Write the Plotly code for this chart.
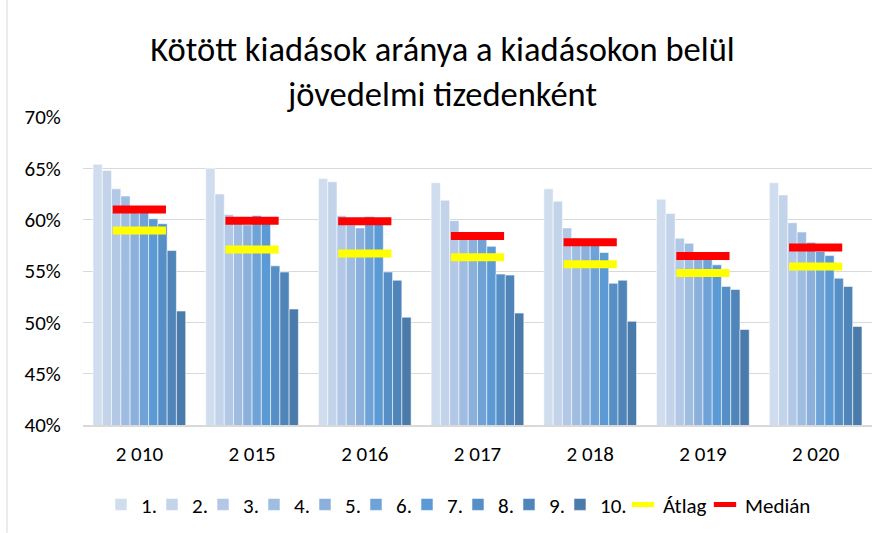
import plotly.graph_objects as go

years = ["2 010", "2 015", "2 016", "2 017", "2 018", "2 019", "2 020"]
decile_names = ["1.", "2.", "3.", "4.", "5.", "6.", "7.", "8.", "9.", "10."]

# share of fixed expenses (%) per income decile, one list per decile across years
d1 = [65.4, 65.0, 64.0, 63.6, 63.0, 62.0, 63.6]
d2 = [64.8, 62.5, 63.7, 61.9, 61.8, 60.6, 62.4]
d3 = [63.0, 60.5, 60.4, 59.9, 59.2, 58.2, 59.7]
d4 = [62.3, 59.6, 59.5, 58.6, 58.2, 57.7, 58.8]
d5 = [61.0, 59.5, 59.2, 58.4, 57.9, 56.6, 57.8]
d6 = [60.7, 60.4, 60.3, 58.1, 57.6, 56.3, 56.9]
d7 = [60.1, 60.0, 59.8, 57.4, 56.8, 55.6, 56.5]
d8 = [59.6, 55.5, 54.9, 54.7, 53.8, 53.5, 54.3]
d9 = [57.0, 54.9, 54.1, 54.6, 54.1, 53.2, 53.5]
d10 = [51.1, 51.3, 50.5, 50.9, 50.1, 49.3, 49.6]
atlag = [58.95, 57.1, 56.7, 56.35, 55.65, 54.8, 55.45]
median = [61.0, 59.9, 59.85, 58.4, 57.8, 56.45, 57.3]

y_ticks = [40, 45, 50, 55, 60, 65, 70]
y_labels = ["40%", "45%", "50%", "55%", "60%", "65%", "70%"]

deciles = [d1, d2, d3, d4, d5, d6, d7, d8, d9, d10]
colors = ["#D0DDEE", "#C2D3EA", "#B3C8E6", "#9FBCE1", "#8CB0DC",
          "#6FA3D8", "#5B9AD4", "#558FC6", "#4F85B8", "#4A7BAB"]

font_fam = "Carlito, Calibri, Lato, sans-serif"

fig = go.Figure()

for name, vals, col in zip(decile_names, deciles, colors):
    fig.add_trace(go.Bar(
        x=years, y=vals, name=name,
        marker_color=col,
        marker_line=dict(color="rgba(255,255,255,0.55)", width=1),
        legendwidth=18 if name == "10." else 6,
    ))

fig.add_trace(go.Scatter(
    x=years, y=atlag, name="Átlag", mode="markers",
    marker=dict(symbol="line-ew", size=38, color="#FFFF00",
                line=dict(color="#FFFF00", width=8)),
    legendwidth=37,
))
fig.add_trace(go.Scatter(
    x=years, y=median, name="Medián", mode="markers",
    marker=dict(symbol="line-ew", size=38, color="#FF0000",
                line=dict(color="#FF0000", width=8)),
))

fig.update_layout(
    width=885, height=533,
    margin=dict(l=83, r=13, t=117, b=108, autoexpand=False),
    paper_bgcolor="white", plot_bgcolor="white",
    barmode="group", bargap=0.178, bargroupgap=0,
    font=dict(family=font_fam, size=21, color="#000000"),
    title=dict(
        text="Kötött kiadások aránya a kiadásokon belül<br>jövedelmi tizedenként",
        x=0.5, xanchor="center", y=0.886, yanchor="middle",
        font=dict(family=font_fam, size=34.5, color="#000000"),
    ),
    legend=dict(
        orientation="h", x=0.0228, xanchor="left",
        yref="container", y=0.053, yanchor="middle",
        font=dict(size=21), traceorder="normal", itemwidth=30,
    ),
    showlegend=True,
)

fig.update_yaxes(
    range=[40, 70], tickmode="array", tickvals=y_ticks, ticktext=y_labels,
    showgrid=True, gridcolor="#D9D9D9", gridwidth=1.3,
    zeroline=False, showline=False,
    ticks="outside", ticklen=17, tickcolor="rgba(0,0,0,0)",
)
fig.update_xaxes(
    range=[-0.5, len(years) - 0.5],
    showline=True, linecolor="#D9D9D9", linewidth=2,
    ticks="outside", ticklen=9, tickcolor="rgba(0,0,0,0)",
)

# chart frame edge on the left
fig.add_shape(type="line", xref="paper", yref="paper",
              x0=-0.0963, x1=-0.0963, y0=-0.35, y1=1.38,
              line=dict(color="#D9D9D9", width=1))

fig.write_html("out.html", config={"displayModeBar": False},
               post_script="document.body.style.margin='0';")
